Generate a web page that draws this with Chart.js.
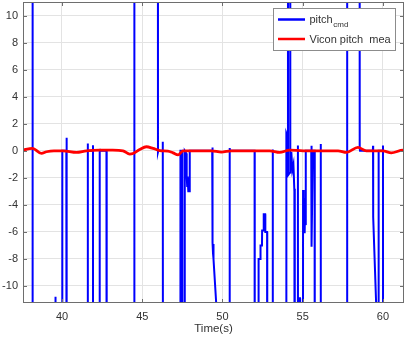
<!DOCTYPE html>
<html>
<head>
<meta charset="utf-8">
<script src="https://cdn.jsdelivr.net/npm/chart.js@4/dist/chart.umd.min.js"></script>
<style>
  html, body { margin: 0; padding: 0; background: #fff; }
  canvas { display: block; }
</style>
</head>
<body>
<canvas id="c" width="407" height="338"></canvas>
<script>
// off-chart levels (the command saturates far outside the visible range)
const LO = -40, HI = 40;

// pitch_cmd: time (s) and value
const cmdT = [
  37.50, 38.15, 38.16, 38.18, 39.57, 39.58, 39.60, 39.61,
  40.01, 40.02, 40.27, 40.28, 40.30,
  41.59, 41.60, 41.62, 41.92, 41.93, 41.94,
  42.34, 42.35, 42.37, 42.77, 42.78, 42.79,
  44.50, 44.51, 45.97, 45.98, 46.00, 46.27, 46.28, 46.30,
  47.37, 47.38, 47.49, 47.50, 47.64, 47.65, 47.75, 47.77, 47.80, 47.83, 47.87, 47.91, 47.94, 47.96,
  49.36, 49.37, 49.39, 49.41, 49.43, 49.45, 49.62, 49.63,
  50.44, 50.45, 50.47, 52.00, 52.01,
  52.24, 52.25, 52.36, 52.37, 52.46, 52.47, 52.56, 52.57, 52.66, 52.67, 52.78, 52.79,
  53.12, 53.13, 53.14,
  53.97, 53.98, 54.07, 54.08, 54.09, 54.21, 54.22, 54.23,
  54.29, 54.35, 54.42, 54.48, 54.50, 54.51,
  54.69, 54.70, 54.71, 54.80, 54.81, 54.83, 54.84,
  55.01, 55.02, 55.06, 55.09, 55.12, 55.15, 55.18, 55.19, 55.20,
  55.53, 55.54, 55.56, 55.63, 55.74, 55.75,
  56.11, 56.12, 56.13,
  57.76, 57.77, 58.54, 58.55, 58.57,
  59.37, 59.38, 59.39, 59.58, 59.59,
  59.72, 59.73, 59.99, 60.00, 60.01, 61.40
];
const cmdV = [
  LO, LO, HI, LO, LO, -10.8, -10.8, LO,
  LO, 0, 0, 0.96, LO,
  LO, 0.55, 0, 0, 0.42, LO,
  LO, 0.13, 0, 0, 0.1, LO,
  LO, HI, HI, -0.1, 0, 0, 0.67, LO,
  LO, 0, 0, LO, LO, 0, -0.2, -1.9, -2.6, -1.9, -3.0, -2.7, -3.0, 0,
  0, 0.25, -6.8, -7.6, -6.9, -8.0, -11.5, LO,
  LO, 0.2, 0, 0, LO,
  LO, -8.0, -8.0, -7.0, -7.0, -5.9, -5.9, -4.7, -4.7, -6.0, -6.0, LO,
  LO, 0.1, LO,
  LO, 1.3, 1.0, HI, -1.8, -1.6, HI, -1.4,
  -0.1, -1.4, -1.0, -3.0, -2.8, LO,
  LO, 0.4, LO, LO, -10.9, -10.9, LO,
  LO, -2.9, -5.0, -3.5, -6.1, -4.0, -5.5, -0.2, 0,
  0, 0.37, -7.1, 0, 0, LO,
  LO, 0.5, LO,
  LO, HI, HI, 0.2, 0,
  0, 0.37, -4.9, -11.5, LO,
  LO, 0, 0, 0.4, LO, LO
];

// Vicon pitch measurement
const meaT = [
  37.55, 38.16, 38.72, 39.03, 39.50, 40.06, 40.90, 41.52, 42.35, 43.16, 43.80,
  44.22, 44.42, 44.84, 45.26, 45.67, 46.09, 46.60, 46.92, 47.23, 47.54,
  48.40, 49.31, 49.93, 50.55, 51.50, 52.94, 53.56, 54.19, 55.02, 56.26,
  57.20, 57.72, 58.44, 58.96, 60.00, 60.52, 61.25, 61.35
];
const meaV = [
  0.05, 0.18, -0.19, -0.07, 0.0, 0.0, -0.12, 0.0, 0.05, 0.05, 0.0,
  -0.24, -0.2, 0.1, 0.3, 0.18, 0.02, -0.02, -0.15, -0.3, 0.0,
  0.0, 0.0, -0.1, 0.0, 0.0, 0.0, -0.12, 0.05, 0.0, 0.0,
  0.0, -0.12, 0.25, 0.0, 0.0, -0.15, 0.05, 0.05
];

const xTicks = [40, 45, 50, 55, 60];
const yTicks = [-10, -8, -6, -4, -2, 0, 2, 4, 6, 8, 10];
const xLabel = 'Time(s)';

const FONT = '"Liberation Sans", Arial, Helvetica, sans-serif';
const TXT = '#333333';
const AXIS = '#6e6e6e';
const GRID = '#e3e3e3';

const toXY = (ts, vs) => ts.map((t, i) => ({ x: t, y: vs[i] }));

// MATLAB-like box with inward ticks plus the legend (with subscript)
const matlabBox = {
  id: 'matlabBox',
  afterDraw(chart) {
    const { ctx, chartArea: a, scales: { x, y } } = chart;
    ctx.save();
    ctx.strokeStyle = AXIS;
    ctx.lineWidth = 1;
    ctx.strokeRect(a.left + 0.5, a.top + 0.5, a.right - a.left - 1, a.bottom - a.top - 1);
    ctx.beginPath();
    xTicks.forEach(v => {
      const px = Math.round(x.getPixelForValue(v)) + 0.5;
      ctx.moveTo(px, a.bottom); ctx.lineTo(px, a.bottom - 4);
      ctx.moveTo(px, a.top); ctx.lineTo(px, a.top + 4);
    });
    yTicks.forEach(v => {
      const py = Math.round(y.getPixelForValue(v)) + 0.5;
      ctx.moveTo(a.left, py); ctx.lineTo(a.left + 4, py);
      ctx.moveTo(a.right, py); ctx.lineTo(a.right - 4, py);
    });
    ctx.stroke();

    // legend
    const lx = 273.5, ly = 8.5, lw = 122, lh = 42;
    ctx.fillStyle = '#fff';
    ctx.fillRect(lx, ly, lw, lh);
    ctx.strokeStyle = '#8c8c8c';
    ctx.strokeRect(lx, ly, lw, lh);

    ctx.lineWidth = 2.5;
    ctx.strokeStyle = '#0000ff';
    ctx.beginPath(); ctx.moveTo(278, 19.5); ctx.lineTo(305, 19.5); ctx.stroke();
    ctx.strokeStyle = '#ff0000';
    ctx.beginPath(); ctx.moveTo(278, 39); ctx.lineTo(305, 39); ctx.stroke();

    ctx.fillStyle = TXT;
    ctx.textBaseline = 'alphabetic';
    ctx.textAlign = 'left';
    ctx.font = '11px ' + FONT;
    ctx.fillText('pitch', 309.5, 22.5);
    const w = ctx.measureText('pitch').width;
    ctx.font = '8px ' + FONT;
    ctx.fillText('cmd', 309.5 + w + 0.5, 26.5);
    ctx.font = '11px ' + FONT;
    ctx.fillText('Vicon pitch  mea', 309.5, 42.5);
    ctx.restore();
  }
};

new Chart(document.getElementById('c'), {
  type: 'line',
  data: {
    datasets: [
      {
        label: 'Vicon pitch mea',
        data: toXY(meaT, meaV),
        borderColor: '#ff0000',
        borderWidth: 2.8,
        pointRadius: 0,
        cubicInterpolationMode: 'monotone',
        clip: 0,
        order: 0
      },
      {
        label: 'pitch_cmd',
        data: toXY(cmdT, cmdV),
        borderColor: '#0000ff',
        borderWidth: 2,
        pointRadius: 0,
        tension: 0,
        clip: 0,
        order: 1
      }
    ]
  },
  options: {
    responsive: false,
    animation: false,
    events: [],
    layout: { padding: { top: 2, right: 3, left: 0, bottom: 0 } },
    plugins: { legend: { display: false }, tooltip: { enabled: false } },
    scales: {
      x: {
        type: 'linear',
        min: 37.57,
        max: 61.31,
        afterBuildTicks: s => { s.ticks = xTicks.map(v => ({ value: v })); },
        afterFit: s => { s.height = 35; s.paddingLeft = 0; s.paddingRight = 0; },
        grid: { color: GRID, drawTicks: false },
        border: { display: false },
        ticks: { color: TXT, font: { family: FONT, size: 11 }, padding: 7, maxRotation: 0 },
        title: { display: true, text: xLabel, color: TXT, font: { family: FONT, size: 11.5 }, padding: { top: 0, bottom: 2 } }
      },
      y: {
        min: -11.26,
        max: 11.01,
        afterBuildTicks: s => { s.ticks = yTicks.map(v => ({ value: v })); },
        afterFit: s => { s.width = 23; s.paddingTop = 0; s.paddingBottom = 0; },
        grid: { color: GRID, drawTicks: false },
        border: { display: false },
        ticks: { color: TXT, font: { family: FONT, size: 11 }, padding: 5 }
      }
    }
  },
  plugins: [matlabBox]
});
</script>
</body>
</html>
